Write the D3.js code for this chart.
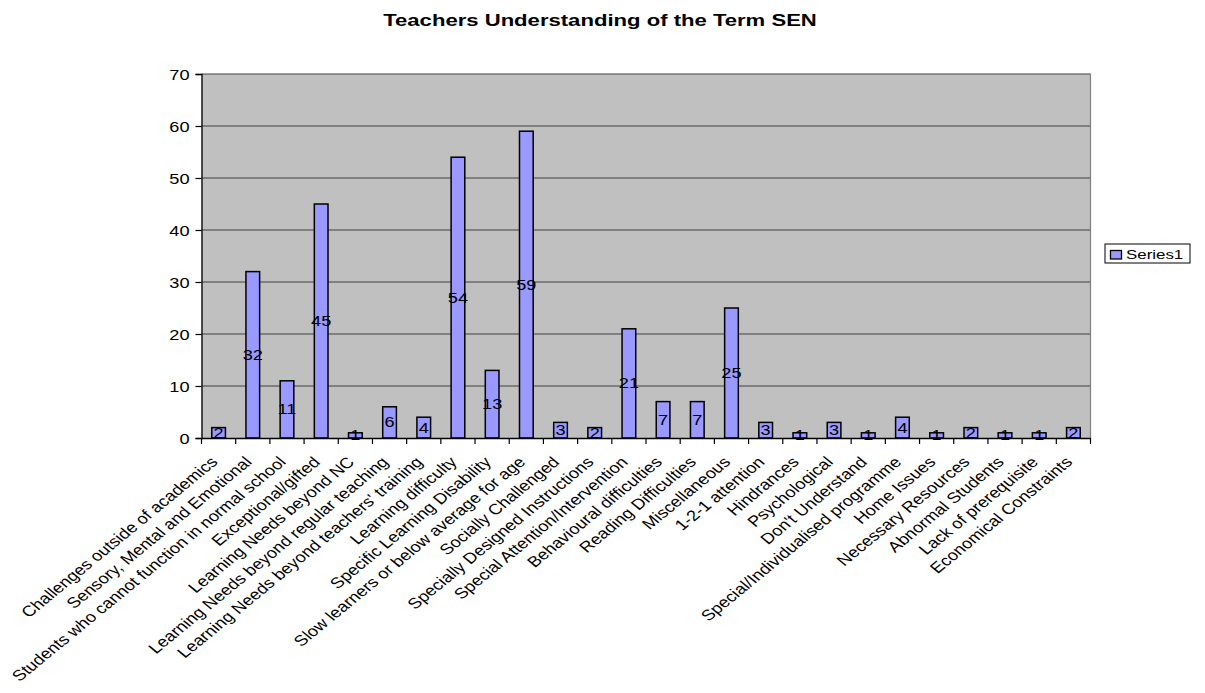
<!DOCTYPE html>
<html>
<head>
<meta charset="utf-8">
<script src="https://cdn.jsdelivr.net/npm/d3@7"></script>
<style>
  html, body { margin: 0; padding: 0; background: #fff; }
  text { font-family: Arial, "Liberation Sans", sans-serif; fill: #000; }
</style>
</head>
<body>
<svg id="chart" width="1205" height="693"></svg>
<script>
const categories = [
  "Challenges outside of academics",
  "Sensory, Mental and Emotional",
  "Students who cannot function in normal school",
  "Exceptional/gifted",
  "Learning Needs beyond NC",
  "Learning Needs beyond regular teaching",
  "Learning Needs beyond teachers' training",
  "Learning difficulty",
  "Specific Learning Disability",
  "Slow learners or below average for age",
  "Socially Challenged",
  "Specially Designed Instructions",
  "Special Attention/Intervention",
  "Behavioural difficulties",
  "Reading Difficulties",
  "Miscellaneous",
  "1-2-1 attention",
  "Hindrances",
  "Psychological",
  "Don't Understand",
  "Special/Individualised programme",
  "Home Issues",
  "Necessary Resources",
  "Abnormal Students",
  "Lack of prerequisite",
  "Economical Constraints"
];
const series1 = [2, 32, 11, 45, 1, 6, 4, 54, 13, 59, 3, 2, 21, 7, 7, 25, 3, 1, 3, 1, 4, 1, 2, 1, 1, 2];
const yTicks = [0, 10, 20, 30, 40, 50, 60, 70];
const seriesName = "Series1";
const chartTitle = "Teachers Understanding of the Term SEN";

const SX = 1.3;   // horizontal stretch of the original picture's text
const SXL = 1.22; // stretch for rotated category labels
const svg = d3.select("#chart");
const plot = { left: 201.5, right: 1090.5, top: 74, bottom: 438 };

const x = d3.scaleBand().domain(categories).range([plot.left, plot.right])
  .paddingInner(0.6).paddingOuter(0.3);
const y = d3.scaleLinear().domain([0, 70]).range([plot.bottom, plot.top]);

// plot background
svg.append("rect")
  .attr("x", plot.left).attr("y", plot.top)
  .attr("width", plot.right - plot.left).attr("height", plot.bottom - plot.top)
  .attr("fill", "#C0C0C0");

// gridlines
svg.append("g").selectAll("line").data(yTicks.filter(d => d > 0)).join("line")
  .attr("x1", plot.left).attr("x2", plot.right)
  .attr("y1", d => y(d)).attr("y2", d => y(d))
  .attr("stroke", "#404040").attr("stroke-width", 1.2);

// right border
svg.append("line")
  .attr("x1", plot.right).attr("x2", plot.right)
  .attr("y1", plot.top).attr("y2", plot.bottom)
  .attr("stroke", "#808080").attr("stroke-width", 1.2);

// bars
svg.append("g").selectAll("rect").data(series1).join("rect")
  .attr("x", (d, i) => x(categories[i]))
  .attr("y", d => y(d))
  .attr("width", x.bandwidth())
  .attr("height", d => y(0) - y(d))
  .attr("fill", "#9999FF")
  .attr("stroke", "#000").attr("stroke-width", 1.5);

// value labels
svg.append("g").selectAll("text").data(series1).join("text")
  .attr("transform", (d, i) => `translate(${x(categories[i]) + x.bandwidth() / 2},${(y(d) + y(0)) / 2}) scale(${SX},1)`)
  .attr("text-anchor", "middle").attr("dy", "0.36em")
  .attr("font-size", 14)
  .text(d => d);

// y axis
const yAxis = svg.append("g").attr("transform", `translate(${plot.left},0)`)
  .call(d3.axisLeft(y).tickValues(yTicks).tickSize(6).tickPadding(0).tickFormat(d3.format("d")));
yAxis.select(".domain").attr("stroke", "#000").attr("stroke-width", 1.3);
yAxis.selectAll(".tick line").attr("stroke", "#000").attr("stroke-width", 1.2);
yAxis.selectAll(".tick text")
  .attr("x", null).attr("dy", null)
  .attr("font-size", 14).attr("font-family", "Arial, 'Liberation Sans', sans-serif")
  .attr("text-anchor", "end")
  .attr("transform", `translate(-12,5) scale(${SX},1)`);

// x axis
const xAxis = svg.append("g").attr("transform", `translate(0,${plot.bottom})`)
  .call(d3.axisBottom(x).tickSize(0).tickFormat(""));
xAxis.select(".domain").attr("stroke", "#000").attr("stroke-width", 1.3);
// tick marks at category boundaries
const step = x.step();
const bounds = d3.range(categories.length + 1).map(i => plot.left + i * step);
svg.append("g").selectAll("line").data(bounds).join("line")
  .attr("x1", d => d).attr("x2", d => d)
  .attr("y1", plot.bottom).attr("y2", plot.bottom + 6)
  .attr("stroke", "#000").attr("stroke-width", 1.2);

// category labels
svg.append("g").selectAll("text").data(categories).join("text")
  .attr("transform", d => `translate(${x(d) + x.bandwidth() / 2},${plot.bottom + 25}) scale(${SXL},1) rotate(-45)`)
  .attr("text-anchor", "end")
  .attr("font-size", 15)
  .text(d => d);

// title
svg.append("text")
  .attr("transform", `translate(600,26) scale(${SX},1)`)
  .attr("text-anchor", "middle")
  .attr("font-size", 17).attr("font-weight", "bold")
  .text(chartTitle);

// legend
const lg = svg.append("g");
lg.append("rect").attr("x", 1105).attr("y", 244).attr("width", 85).attr("height", 19)
  .attr("fill", "#fff").attr("stroke", "#000").attr("stroke-width", 1);
lg.append("rect").attr("x", 1110.5).attr("y", 250.5).attr("width", 11).attr("height", 8.5)
  .attr("fill", "#9999FF").attr("stroke", "#000").attr("stroke-width", 1.3);
lg.append("text")
  .attr("transform", `translate(1126,259) scale(${SX},1)`)
  .attr("font-size", 13)
  .text(seriesName);
</script>
</body>
</html>
